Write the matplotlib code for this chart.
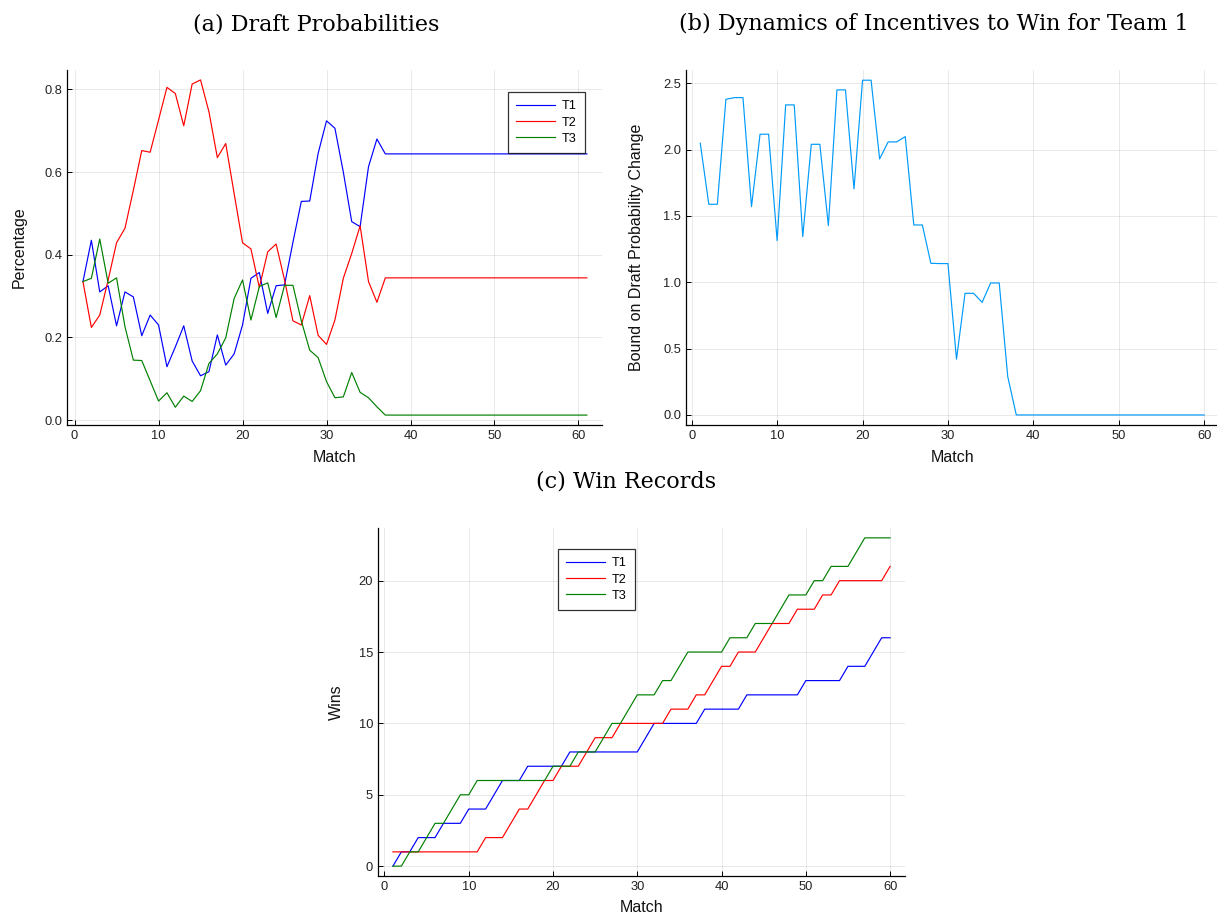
import matplotlib
matplotlib.use("Agg")
import matplotlib.pyplot as plt
import numpy as np

# ---------------- data ----------------
matches_a = list(range(1, 62))
t1_prob = [0.335, 0.435, 0.31, 0.325, 0.228, 0.31, 0.298, 0.204, 0.254, 0.23,
           0.129, 0.177, 0.228, 0.143, 0.107, 0.117, 0.206, 0.133, 0.16, 0.23,
           0.343, 0.357, 0.258, 0.325, 0.327, 0.43, 0.529, 0.53, 0.645, 0.724,
           0.706, 0.6, 0.48, 0.468, 0.613, 0.68] + [0.644] * 25
t2_prob = [0.335, 0.224, 0.254, 0.339, 0.429, 0.464, 0.556, 0.652, 0.648, 0.726,
           0.805, 0.79, 0.712, 0.813, 0.823, 0.746, 0.635, 0.669, 0.548, 0.429,
           0.414, 0.321, 0.407, 0.426, 0.339, 0.24, 0.23, 0.301, 0.205, 0.183,
           0.242, 0.343, 0.403, 0.47, 0.335, 0.285] + [0.344] * 25
t3_prob = [0.335, 0.343, 0.438, 0.331, 0.344, 0.226, 0.145, 0.144, 0.095, 0.046,
           0.066, 0.031, 0.058, 0.045, 0.071, 0.137, 0.16, 0.199, 0.294, 0.339,
           0.242, 0.323, 0.332, 0.248, 0.326, 0.326, 0.24, 0.169, 0.151, 0.093,
           0.054, 0.056, 0.115, 0.067, 0.054, 0.032] + [0.012] * 25

matches_b = list(range(1, 61))
bound_change = [2.048, 1.588, 1.588, 2.379, 2.392, 2.392, 1.57, 2.116, 2.116, 1.314,
                2.337, 2.337, 1.344, 2.04, 2.04, 1.427, 2.45, 2.45, 1.704, 2.523,
                2.523, 1.93, 2.058, 2.058, 2.098, 1.432, 1.432, 1.143, 1.141, 1.141,
                0.42, 0.917, 0.917, 0.849, 0.995, 0.995, 0.289] + [0.0] * 23

matches_c = list(range(1, 61))
t1_wins = [0, 1, 1, 2, 2, 2, 3, 3, 3, 4, 4, 4, 5, 6, 6, 6, 7, 7, 7, 7,
           7, 8, 8, 8, 8, 8, 8, 8, 8, 8, 9, 10, 10, 10, 10, 10, 10, 11, 11, 11,
           11, 11, 12, 12, 12, 12, 12, 12, 12, 13, 13, 13, 13, 13, 14, 14, 14, 15, 16, 16]
t2_wins = [1, 1, 1, 1, 1, 1, 1, 1, 1, 1, 1, 2, 2, 2, 3, 4, 4, 5, 6, 6,
           7, 7, 7, 8, 9, 9, 9, 10, 10, 10, 10, 10, 10, 11, 11, 11, 12, 12, 13, 14,
           14, 15, 15, 15, 16, 17, 17, 17, 18, 18, 18, 19, 19, 20, 20, 20, 20, 20, 20, 21]
t3_wins = [0, 0, 1, 1, 2, 3, 3, 4, 5, 5, 6, 6, 6, 6, 6, 6, 6, 6, 6, 7,
           7, 7, 8, 8, 8, 9, 10, 10, 11, 12, 12, 12, 13, 13, 14, 15, 15, 15, 15, 15,
           16, 16, 16, 17, 17, 17, 18, 19, 19, 19, 20, 20, 21, 21, 21, 22, 23, 23, 23, 23]

series_labels = ["T1", "T2", "T3"]
series_colors = ["#0000ff", "#ff0000", "#008000"]

title_a = "(a) Draft Probabilities"
title_b = "(b) Dynamics of Incentives to Win for Team 1"
title_c = "(c) Win Records"

# ---------------- figure ----------------
W, H = 1217, 918
fig = plt.figure(figsize=(W / 100, H / 100), dpi=100)
plt.rcParams['font.family'] = ['Liberation Sans', 'DejaVu Sans']


def make_ax(l, r, t, b):
    return fig.add_axes([l / W, 1 - b / H, (r - l) / W, (b - t) / H])


def style(ax):
    for s in ["top", "right"]:
        ax.spines[s].set_visible(False)
    for s in ["left", "bottom"]:
        ax.spines[s].set_linewidth(0.9)
        ax.spines[s].set_color("black")
    ax.grid(True, color="black", alpha=0.1, linewidth=0.6)
    ax.set_axisbelow(True)
    ax.tick_params(direction="in", length=3.5, width=0.7, labelsize=9.3,
                   colors="black", labelcolor="#222222", pad=3.5)


def add_legend(ax, anchor):
    leg = ax.legend(loc="upper left", bbox_to_anchor=anchor,
                    frameon=True, fancybox=False, fontsize=9.2, handlelength=3.0,
                    borderpad=0.65, labelspacing=0.33, handletextpad=0.55,
                    borderaxespad=0)
    leg.get_frame().set_edgecolor("black")
    leg.get_frame().set_linewidth(0.9)
    return leg


lw = 0.85

# Panel (a)
ax_a = make_ax(67, 602, 70, 425)
for ys, lab, c in zip([t1_prob, t2_prob, t3_prob], series_labels, series_colors):
    ax_a.plot(matches_a, ys, color=c, lw=lw, label=lab)
ax_a.set_xlim(-0.9, 62.8)
ax_a.set_ylim(-0.012, 0.847)
ax_a.set_xticks([0, 10, 20, 30, 40, 50, 60])
ax_a.set_yticks([0.0, 0.2, 0.4, 0.6, 0.8])
ax_a.set_yticklabels(["0.0", "0.2", "0.4", "0.6", "0.8"])
style(ax_a)
add_legend(ax_a, ((508 - 67) / 535, (425 - 92) / 355))

# Panel (b)
ax_b = make_ax(686, 1217, 70, 425)
ax_b.plot(matches_b, bound_change, color="#009afa", lw=lw)
ax_b.set_xlim(-0.67, 61.5)
ax_b.set_ylim(-0.0757, 2.6)
ax_b.set_xticks([0, 10, 20, 30, 40, 50, 60])
ax_b.set_yticks([0.0, 0.5, 1.0, 1.5, 2.0, 2.5])
ax_b.set_yticklabels(["0.0", "0.5", "1.0", "1.5", "2.0", "2.5"])
style(ax_b)

# Panel (c)
ax_c = make_ax(378, 905, 528, 876)
for ys, lab, c in zip([t1_wins, t2_wins, t3_wins], series_labels, series_colors):
    ax_c.plot(matches_c, ys, color=c, lw=lw, label=lab)
ax_c.set_xlim(-0.77, 61.77)
ax_c.set_ylim(-0.69, 23.69)
ax_c.set_xticks([0, 10, 20, 30, 40, 50, 60])
ax_c.set_yticks([0, 5, 10, 15, 20])
style(ax_c)
add_legend(ax_c, ((558 - 378) / 527, (876 - 549) / 348))


def ftext(x, y, s, **kw):
    fig.text(x / W, 1 - y / H, s, ha="center", va="center", **kw)


serif = ["DejaVu Serif"]
ftext(316, 24, title_a, fontsize=16, family=serif)
ftext(934, 24, title_b, fontsize=16, family=serif)
ftext(626, 482, title_c, fontsize=16, family=serif)

lab_kw = dict(fontsize=11.5, color="#111111")
ftext(335, 458, "Match", **lab_kw)
ftext(953, 458, "Match", **lab_kw)
ftext(642, 907, "Match", **lab_kw)
ftext(19, 247, "Percentage", rotation=90, **lab_kw)
ftext(637, 247, "Bound on Draft Probability Change", rotation=90, **lab_kw)
ftext(336, 702, "Wins", rotation=90, **lab_kw)

fig.savefig("out.png", dpi=100)
